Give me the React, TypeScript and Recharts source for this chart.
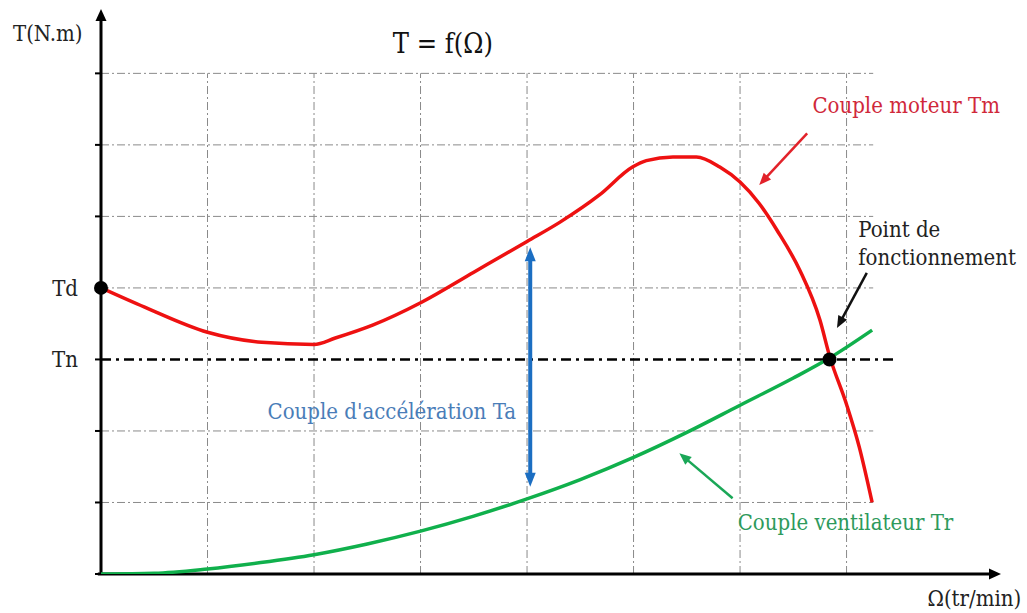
import React from 'react';
import { LineChart, Line, XAxis, YAxis, ReferenceLine, ReferenceDot } from 'recharts';

// Motor torque curve Tm = f(Ω)
const speedTm = [0, 0.41, 1.0, 1.51, 2.0, 2.2, 2.55, 3.01, 3.5, 4.0, 4.31, 4.68, 4.99, 5.12, 5.37, 5.59, 5.81, 6.0, 6.18, 6.35, 6.56, 6.75, 6.84, 7.0, 7.12, 7.24];
const torqueTm = [4.0, 3.73, 3.38, 3.24, 3.21, 3.3, 3.48, 3.8, 4.22, 4.65, 4.92, 5.3, 5.69, 5.78, 5.83, 5.83, 5.69, 5.48, 5.18, 4.8, 4.25, 3.55, 3.05, 2.37, 1.77, 1.0];
// Fan load torque Tr = f(Ω)
const speedTr = [0, 0.5, 1.0, 1.5, 2.0, 2.5, 3.0, 3.5, 4.0, 4.5, 5.0, 5.5, 6.0, 6.5, 6.84, 7.24];
const torqueTr = [0, 0.01, 0.07, 0.16, 0.27, 0.42, 0.6, 0.81, 1.05, 1.32, 1.63, 1.98, 2.36, 2.74, 3.02, 3.41];

const gridX = [1, 2, 3, 4, 5, 6, 7];
const gridY = [1, 2, 4, 5, 6, 7];
const axisTicks = [0, 1, 2, 3, 4, 5, 6, 7];
const Td = 4;
const Tn = 3;
const tickNames: Record<number, string> = { 3: 'Tn', 4: 'Td' };
const opSpeed = 6.84;
const accelSpeed = 4.03;
const accelTop = 4.57;
const accelBottom = 1.22;

const tmData = speedTm.map((x, i) => ({ x, y: torqueTm[i] }));
const trData = speedTr.map((x, i) => ({ x, y: torqueTr[i] }));

const X_MAX = 8.45;
const Y_MAX = 7.9;
const GRID_X_END = 7.25;
const TN_END = 7.48;

const FONT = "'DejaVu Serif Condensed', 'DejaVu Serif', serif";
const RED = '#ee1111';
const GREEN = '#10b04c';
const BLUE = '#1b6ec2';

const arrowShape = (color: string, width: number, hl: number, hw: number, both = false) => (p: any) => {
  const { x1, y1, x2, y2 } = p;
  const dx = x2 - x1;
  const dy = y2 - y1;
  const L = Math.hypot(dx, dy) || 1;
  const ux = dx / L;
  const uy = dy / L;
  const nx = -uy;
  const ny = ux;
  const headPts = (tx: number, ty: number, sx: number, sy: number) =>
    `${tx},${ty} ${tx - sx * hl + nx * hw / 2},${ty - sy * hl + ny * hw / 2} ${tx - sx * hl - nx * hw / 2},${ty - sy * hl - ny * hw / 2}`;
  const sx1 = both ? x1 + ux * hl * 0.8 : x1;
  const sy1 = both ? y1 + uy * hl * 0.8 : y1;
  const ex = x2 - ux * hl * 0.8;
  const ey = y2 - uy * hl * 0.8;
  return (
    <g>
      <line x1={sx1} y1={sy1} x2={ex} y2={ey} stroke={color} strokeWidth={width} />
      <polygon points={headPts(x2, y2, ux, uy)} fill={color} />
      {both && <polygon points={headPts(x1, y1, -ux, -uy)} fill={color} />}
    </g>
  );
};

const textShape = (lines: string[], color: string, size: number, anchor: 'start' | 'middle' | 'end' = 'middle', lineGap = 28) => (p: any) => (
  <text x={p.cx} y={p.cy} fill={color} fontSize={size} fontFamily={FONT} textAnchor={anchor} dominantBaseline="central">
    {lines.map((l, i) => (
      <tspan key={i} x={p.cx} dy={i === 0 ? 0 : lineGap}>{l}</tspan>
    ))}
  </text>
);

export default function App() {
  return (
    <div style={{ position: 'absolute', left: 0, top: 0, width: 1027, height: 613, background: '#fff' }}>
      <LineChart width={1027} height={613} margin={{ top: 9, right: 26, bottom: 0, left: 0 }}>
        <XAxis
          type="number"
          dataKey="x"
          domain={[0, X_MAX]}
          allowDataOverflow
          ticks={axisTicks}
          tick={false}
          tickLine={{ stroke: '#000', strokeWidth: 2 }}
          tickSize={6}
          axisLine={false}
          height={39}
        />
        <YAxis
          type="number"
          dataKey="y"
          domain={[0, Y_MAX]}
          allowDataOverflow
          ticks={axisTicks}
          tickFormatter={(v: number) => tickNames[v] ?? ''}
          tick={{ fill: '#222', fontSize: 22, fontFamily: FONT }}
          tickLine={{ stroke: '#000', strokeWidth: 2 }}
          tickSize={6}
          tickMargin={17}
          axisLine={false}
          width={101}
        />

        {gridX.map((g) => (
          <ReferenceLine key={'gx' + g} segment={[{ x: g, y: 0 }, { x: g, y: 7 }]} stroke="#8a8a8a" strokeWidth={1} strokeDasharray="8 3 2 3" ifOverflow="visible" />
        ))}
        {gridY.map((g) => (
          <ReferenceLine key={'gy' + g} segment={[{ x: 0, y: g }, { x: GRID_X_END, y: g }]} stroke="#8a8a8a" strokeWidth={1} strokeDasharray="8 3 2 3" ifOverflow="visible" />
        ))}
        <ReferenceLine segment={[{ x: 0, y: Tn }, { x: TN_END, y: Tn }]} stroke="#000" strokeWidth={2.5} strokeDasharray="10 5 3 5" ifOverflow="visible" />

        <ReferenceLine segment={[{ x: -0.03, y: 0 }, { x: X_MAX, y: 0 }]} ifOverflow="visible" shape={arrowShape('#000', 3, 12, 11)} />
        <ReferenceLine segment={[{ x: 0, y: 0 }, { x: 0, y: Y_MAX }]} ifOverflow="visible" shape={arrowShape('#000', 3, 12, 11)} />

        <Line data={trData} dataKey="y" type="monotone" stroke={GREEN} strokeWidth={3.5} dot={false} isAnimationActive={false} />
        <Line data={tmData} dataKey="y" type="monotone" stroke={RED} strokeWidth={3.5} dot={false} isAnimationActive={false} />

        <ReferenceLine segment={[{ x: accelSpeed, y: accelTop }, { x: accelSpeed, y: accelBottom }]} ifOverflow="visible" shape={arrowShape(BLUE, 4, 14, 11, true)} />
        <ReferenceLine segment={[{ x: 6.63, y: 6.16 }, { x: 6.18, y: 5.44 }]} ifOverflow="visible" shape={arrowShape('#e2222a', 2.5, 12, 10)} />
        <ReferenceLine segment={[{ x: 7.19, y: 4.21 }, { x: 6.91, y: 3.44 }]} ifOverflow="visible" shape={arrowShape('#111', 2.5, 12, 10)} />
        <ReferenceLine segment={[{ x: 5.93, y: 1.06 }, { x: 5.43, y: 1.69 }]} ifOverflow="visible" shape={arrowShape('#1aa757', 2.5, 12, 10)} />

        <ReferenceDot x={0} y={Td} r={7} fill="#000" stroke="none" ifOverflow="visible" />
        <ReferenceDot x={opSpeed} y={Tn} r={7} fill="#000" stroke="none" ifOverflow="visible" />

        <ReferenceDot x={3.21} y={7.43} ifOverflow="visible" shape={textShape(['T = f(Ω)'], '#111', 27)} />
        <ReferenceDot x={-0.5} y={7.56} ifOverflow="visible" shape={textShape(['T(N.m)'], '#222', 22)} />
        <ReferenceDot x={8.2} y={-0.34} ifOverflow="visible" shape={textShape(['Ω(tr/min)'], '#222', 22)} />
        <ReferenceDot x={7.56} y={6.56} ifOverflow="visible" shape={textShape(['Couple moteur Tm'], '#d0283a', 22)} />
        <ReferenceDot x={7.11} y={4.82} ifOverflow="visible" shape={textShape(['Point de', 'fonctionnement'], '#222', 22, 'start')} />
        <ReferenceDot x={2.73} y={2.28} ifOverflow="visible" shape={textShape(["Couple d'accélération Ta"], '#4a7db8', 22)} />
        <ReferenceDot x={6.99} y={0.73} ifOverflow="visible" shape={textShape(['Couple ventilateur Tr'], '#2e9a5c', 22)} />
      </LineChart>
    </div>
  );
}
